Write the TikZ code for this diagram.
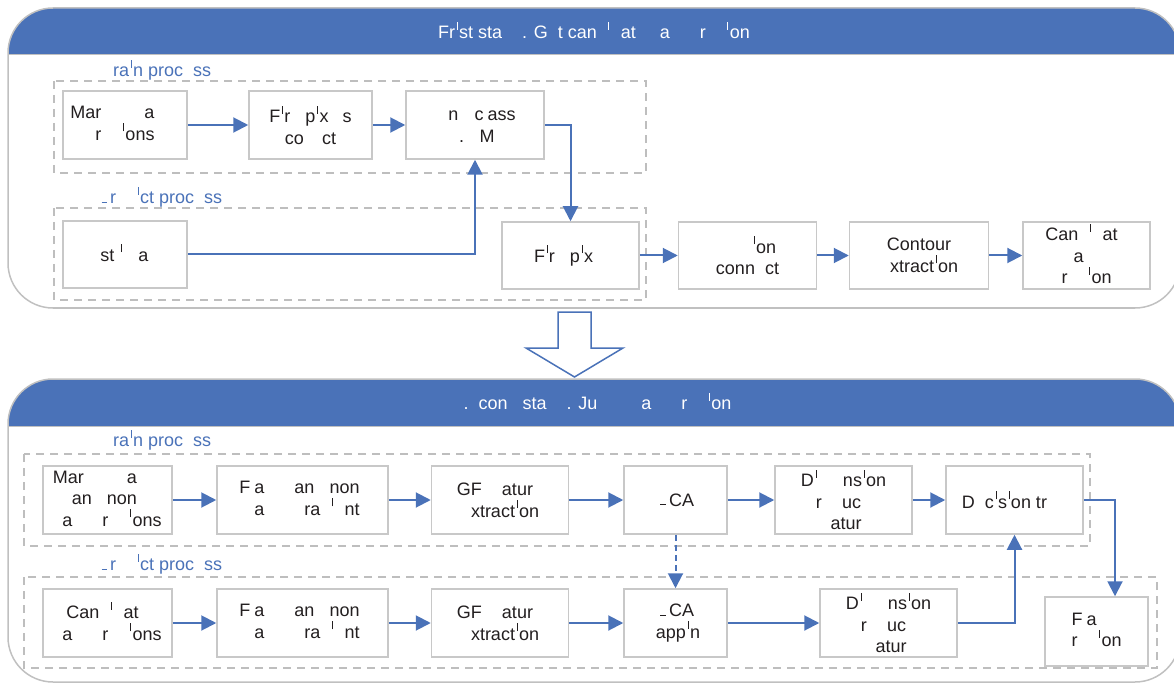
\documentclass[tikz,border=0pt]{standalone}
\usepackage{fontspec}
\setmainfont{Liberation Sans}
\usetikzlibrary{arrows.meta}
\definecolor{hdr}{RGB}{74,114,184}
\definecolor{bord}{RGB}{200,200,200}
\definecolor{dsh}{RGB}{190,190,190}
\definecolor{pnl}{RGB}{192,192,192}
\definecolor{txt}{RGB}{35,31,32}
\newcommand\ph[1]{\phantom{#1}}
\newcommand\ti{\makebox[0.222em]{\rule[0.5em]{0.055em}{0.45em}}}
\newcommand\pg{\makebox[0.667em][c]{\rule[0.05em]{0.3em}{0.07em}}}
\newcommand\sg{\makebox[0.667em][r]{.}}
\begin{document}
\begin{tikzpicture}[x=1pt,y=-1pt,
  every node/.style={font=\fontsize{18}{21.5}\selectfont, text=txt},
  box/.style={draw=bord, line width=1.5pt, fill=white, align=center, inner sep=0pt},
  grp/.style={draw=dsh, line width=1.3pt, dash pattern=on 8pt off 6pt},
  panel/.style={draw=pnl, line width=1.5pt, rounded corners=45pt},
  conn/.style={draw=hdr, line width=2pt, -{Triangle[length=15pt,width=15pt]}},
  dconn/.style={conn, dash pattern=on 6pt off 4pt},
  lbl/.style={text=hdr, anchor=west, inner sep=0pt},
  htxt/.style={text=white, inner sep=0pt},
]
\useasboundingbox (0,0) rectangle (1174,684);
\clip (0,0) rectangle (1174,684);

% ---------- top panel ----------
\begin{scope}
  \clip[rounded corners=45pt] (8,8) rectangle (1180,308);
  \fill[hdr] (0,0) rectangle (1200,55);
\end{scope}
\draw[pnl, line width=1pt] (8,55) -- (1180,55);
\draw[panel] (8,8) rectangle (1180,308);
\node[htxt] (h1) at (594,32) {Fr\ti st sta\ph{ge}. G\ph{e}t can\ph{d}\ti\ph{d}at\ph{e} \ph{fl}a\ph{me} r\ph{eg}\ti on};

\draw[grp] (54,81) rectangle (646,173);
\draw[grp] (54,208) rectangle (646,300);
\node[lbl] (l1) at (102,70) {\ph{T}ra\ti n proc\ph{e}ss};
\node[lbl] (l2) at (98,197) {\pg r\ph{ed}\ti ct proc\ph{e}ss};

\node[box, minimum width=124pt, minimum height=68pt] (a1) at (125,125) {Mar\ph{ked} \ph{fl}a\ph{me}\\r\ph{eg}\ti ons};
\node[box, minimum width=123pt, minimum height=68pt] (a2) at (310.5,125) {F\ti r\ph{e} p\ti x\ph{el}s\\co\ph{lle}ct};
\node[box, minimum width=138pt, minimum height=68pt] (a3) at (475,125) {\ph{O}n\ph{e-}c\ph{l}ass\\\makebox[0.667em]{.}\ph{V}M};

\node[box, minimum width=124pt, minimum height=67pt] (b1) at (125,254.5) {\ph{Te}st \ti\ph{m}a\ph{ge}};
\node[box, minimum width=137pt, minimum height=67pt] (b2) at (570.5,255.5) {F\ti r\ph{e} p\ti x\ph{el}};
\node[box, minimum width=138pt, minimum height=67pt] (b3) at (747.5,255.5) {\ph{Reg}\ti on\\conn\ph{e}ct};
\node[box, minimum width=139pt, minimum height=67pt] (b4) at (919,255.5) {Contour\\\ph{e}xtract\ti on};
\node[box, minimum width=127pt, minimum height=67pt] (b5) at (1086.5,255.5) {Can\ph{d}\ti\ph{d}at\ph{e}\\\ph{fl}a\ph{me}\\r\ph{eg}\ti on};

\draw[conn] (a1) -- (a2);
\draw[conn] (a2) -- (a3);
\draw[conn] (a3.east) -| (b2.north);
\draw[conn] (b1.east) -| (a3.south);
\draw[conn] (b2) -- (b3);
\draw[conn] (b3) -- (b4);
\draw[conn] (b4) -- (b5);

% ---------- hollow arrow ----------
\draw[hdr, line width=1.5pt, fill=white, line join=miter] (558,312) -- (591,312) -- (591,348) -- (623,348) -- (574.5,377) -- (526,348) -- (558,348) -- cycle;

% ---------- bottom panel ----------
\begin{scope}
  \clip[rounded corners=45pt] (8,379) rectangle (1180,682);
  \fill[hdr] (0,370) rectangle (1200,426);
\end{scope}
\draw[pnl, line width=1pt] (8,426) -- (1180,426);
\draw[panel] (8,379) rectangle (1180,682);
\node[htxt] (h2) at (594,403) {\sg\ph{e}con\ph{d} sta\ph{ge}. Ju\ph{dge} \ph{fl}a\ph{me} r\ph{eg}\ti on};

\draw[grp] (24,454) rectangle (1090,546);
\draw[grp] (24,577) rectangle (1157,668);
\node[lbl] (l3) at (102,440) {\ph{T}ra\ti n proc\ph{e}ss};
\node[lbl] (l4) at (98,564) {\pg r\ph{ed}\ti ct proc\ph{e}ss};

\node[box, minimum width=129pt, minimum height=68pt] (c1) at (107.5,500) {Mar\ph{ked} \ph{fl}a\ph{me}\\an\ph{d} non\ph{-}\\\ph{fl}a\ph{me} r\ph{eg}\ti ons};
\node[box, minimum width=171pt, minimum height=68pt] (c2) at (302.5,500) {F\ph{l}a\ph{me} an\ph{d} non\ph{-}\\\ph{fl}a\ph{me} \ph{g}ra\ph{d}\ti\ph{e}nt};
\node[box, minimum width=137pt, minimum height=68pt] (c3) at (500,500) {GF \ph{fe}atur\ph{e}\\\ph{e}xtract\ti on};
\node[box, minimum width=103pt, minimum height=68pt] (c4) at (675.5,500) {\pg CA};
\node[box, minimum width=137pt, minimum height=68pt] (c5) at (843.5,500) {D\ti\ph{me}ns\ti on\\r\ph{ed}uc\ph{e}\\\ph{fe}atur\ph{e}};
\node[box, minimum width=137pt, minimum height=68pt] (c6) at (1014.5,500) {D\ph{e}c\ti s\ti on tr\ph{ee}};

\node[box, minimum width=129pt, minimum height=68pt] (d1) at (107.5,623) {Can\ph{d}\ti\ph{d}at\ph{e}\\\ph{fl}a\ph{me} r\ph{eg}\ti ons};
\node[box, minimum width=171pt, minimum height=68pt] (d2) at (302.5,623) {F\ph{l}a\ph{me} an\ph{d} non\ph{-}\\\ph{fl}a\ph{me} \ph{g}ra\ph{d}\ti\ph{e}nt};
\node[box, minimum width=137pt, minimum height=68pt] (d3) at (500,623) {GF \ph{fe}atur\ph{e}\\\ph{e}xtract\ti on};
\node[box, minimum width=103pt, minimum height=68pt] (d4) at (675.5,623) {\pg CA\\\ph{m}app\ti n\ph{g}};
\node[box, minimum width=137pt, minimum height=68pt] (d5) at (888.5,623) {D\ti\ph{me}ns\ti on\\r\ph{ed}uc\ph{e}\\\ph{fe}atur\ph{e}};
\node[box, minimum width=103pt, minimum height=69pt] (d6) at (1096.5,631.5) {F\ph{l}a\ph{me}\\r\ph{eg}\ti on};

\draw[conn] (c1) -- (c2);
\draw[conn] (c2) -- (c3);
\draw[conn] (c3) -- (c4);
\draw[conn] (c4) -- (c5);
\draw[conn] (c5) -- (c6);
\draw[dconn] (c4) -- (d4);
\draw[conn] (d1) -- (d2);
\draw[conn] (d2) -- (d3);
\draw[conn] (d3) -- (d4);
\draw[conn] (d4) -- (d5);
\draw[conn] (d5.east) -| (c6.south);
\draw[conn] (c6.east) -| ([xshift=18.5pt]d6.north);
\end{tikzpicture}
\end{document}
